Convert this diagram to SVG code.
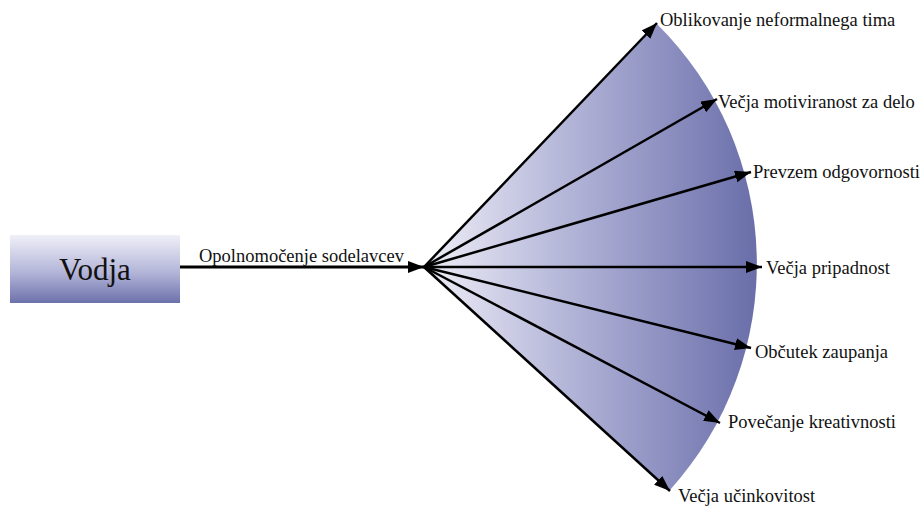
<svg xmlns="http://www.w3.org/2000/svg" width="924" height="506" viewBox="0 0 924 506">
<defs>
<linearGradient id="gBox" x1="0" y1="0" x2="0" y2="1">
<stop offset="0" stop-color="#f0f0f8"/>
<stop offset="0.55" stop-color="#b3b5d8"/>
<stop offset="1" stop-color="#6c71ab"/>
</linearGradient>
<linearGradient id="gFan" gradientUnits="userSpaceOnUse" x1="424" y1="0" x2="762" y2="0">
<stop offset="0" stop-color="#eeeef7"/>
<stop offset="0.5" stop-color="#a9abd2"/>
<stop offset="1" stop-color="#676ca8"/>
</linearGradient>
<marker id="ah" markerUnits="userSpaceOnUse" markerWidth="18" markerHeight="14" refX="16" refY="6" orient="auto">
<path d="M0,0 L16,6 L0,12 Z" fill="#000"/>
</marker>
<style>
.lbl{font-size:18.5px;fill:#111}
.ar{stroke:#000;stroke-width:2.5;fill:none;marker-end:url(#ah)}
</style>
</defs>
<rect width="924" height="506" fill="#fff"/>
<g id="fan">
<path d="M424,267 L657,24 A338,338 0 0,1 670,490 Z" fill="url(#gFan)"/>
</g>
<g id="vodja">
<rect x="10" y="235" width="170" height="68" fill="url(#gBox)"/>
<text x="95" y="280" text-anchor="middle" font-family="Liberation Serif, Times New Roman, serif" font-size="31" fill="#111">Vodja</text>
</g>
<g id="connectors">
<line class="ar" x1="180" y1="267" x2="424" y2="267" style="stroke-width:3"/>
<line class="ar" x1="424" y1="267" x2="657" y2="23"/>
<line class="ar" x1="424" y1="267" x2="717" y2="99"/>
<line class="ar" x1="424" y1="267" x2="751" y2="172"/>
<line class="ar" x1="424" y1="267" x2="762" y2="267"/>
<line class="ar" x1="424" y1="267" x2="751" y2="348"/>
<line class="ar" x1="424" y1="267" x2="720" y2="423"/>
<line class="ar" x1="424" y1="267" x2="670" y2="491"/>
</g>
<g font-family="Liberation Serif, Times New Roman, serif">
<g id="lbl-main"><text class="lbl" x="199" y="262">Opolnomočenje sodelavcev</text></g>
<g id="n1"><text class="lbl" x="660" y="26">Oblikovanje neformalnega tima</text></g>
<g id="n2"><text class="lbl" x="718" y="108">Večja motiviranost za delo</text></g>
<g id="n3"><text class="lbl" x="753" y="178">Prevzem odgovornosti</text></g>
<g id="n4"><text class="lbl" x="766" y="274">Večja pripadnost</text></g>
<g id="n5"><text class="lbl" x="755" y="358">Občutek zaupanja</text></g>
<g id="n6"><text class="lbl" x="728" y="428">Povečanje kreativnosti</text></g>
<g id="n7"><text class="lbl" x="678" y="502">Večja učinkovitost</text></g>
</g>
</svg>
